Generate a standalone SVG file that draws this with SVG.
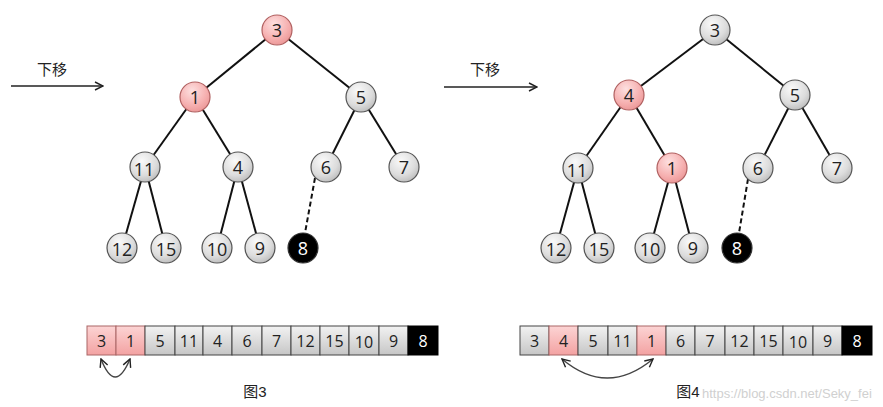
<svg xmlns="http://www.w3.org/2000/svg" width="883" height="407" viewBox="0 0 883 407">
<defs>
<radialGradient id="gg" cx="0.4" cy="0.3" r="0.8">
<stop offset="0" stop-color="#fafafa"/><stop offset="0.6" stop-color="#dcdcdc"/><stop offset="1" stop-color="#b4b4b4"/>
</radialGradient>
<radialGradient id="gp" cx="0.4" cy="0.3" r="0.8">
<stop offset="0" stop-color="#fde0e0"/><stop offset="0.6" stop-color="#f6b0b0"/><stop offset="1" stop-color="#e89090"/>
</radialGradient>
<linearGradient id="cg" x1="0" y1="0" x2="0" y2="1">
<stop offset="0" stop-color="#f2f2f2"/><stop offset="1" stop-color="#c6c6c6"/>
</linearGradient>
<linearGradient id="cp" x1="0" y1="0" x2="0" y2="1">
<stop offset="0" stop-color="#fcd4d4"/><stop offset="1" stop-color="#f3a2a2"/>
</linearGradient>
<marker id="ah" viewBox="0 0 10 10" refX="9" refY="5" markerWidth="10" markerHeight="10" markerUnits="userSpaceOnUse" orient="auto-start-reverse">
<path d="M1,1 L9,5 L1,9" fill="none" stroke="#222" stroke-width="1.4"/>
</marker>
</defs>
<style>
.e{stroke:#111;stroke-width:2;fill:none}
.d{stroke:#111;stroke-width:2;stroke-dasharray:5,3;fill:none}
.n{fill:url(#gg);stroke:#555;stroke-width:1.2}
.p{fill:url(#gp);stroke:#b06060;stroke-width:1.2}
.b{fill:#000;stroke:#333;stroke-width:1.2}
.t{font-family:"Open Sans","Liberation Sans",sans-serif;font-size:18px;fill:#222;text-anchor:middle;dominant-baseline:central}
.c{fill:url(#cg);stroke:#444;stroke-width:1}
.cp{fill:url(#cp);stroke:#a66;stroke-width:1}
.cb{fill:#000;stroke:#000;stroke-width:1}
.ct{font-family:"Open Sans","Liberation Sans",sans-serif;font-size:16px;fill:#222;text-anchor:middle;dominant-baseline:central}
.lab{font-family:"Liberation Sans","Noto Sans CJK SC",sans-serif;font-size:15px;fill:#222;text-anchor:middle}
.ar{stroke:#222;stroke-width:1.6;fill:none}
.cur{stroke:#444;stroke-width:1.4;fill:none}
.w{fill:#fff}
</style>

<g id="connectors">
<line class="e" x1="277" y1="30" x2="195" y2="97"/>
<line class="e" x1="277" y1="30" x2="361" y2="97"/>
<line class="e" x1="195" y1="97" x2="145" y2="167"/>
<line class="e" x1="195" y1="97" x2="238" y2="167"/>
<line class="e" x1="361" y1="97" x2="326" y2="167"/>
<line class="e" x1="361" y1="97" x2="404" y2="167"/>
<line class="e" x1="145" y1="167" x2="122" y2="248"/>
<line class="e" x1="145" y1="167" x2="166" y2="248"/>
<line class="e" x1="238" y1="167" x2="217" y2="248"/>
<line class="e" x1="238" y1="167" x2="260" y2="248"/>
<line class="d" x1="315" y1="178" x2="305" y2="233"/>
<line class="e" x1="715" y1="30" x2="629" y2="95"/>
<line class="e" x1="715" y1="30" x2="795" y2="95"/>
<line class="e" x1="629" y1="95" x2="578" y2="168"/>
<line class="e" x1="629" y1="95" x2="672" y2="168"/>
<line class="e" x1="795" y1="95" x2="758" y2="168"/>
<line class="e" x1="795" y1="95" x2="837" y2="168"/>
<line class="e" x1="578" y1="168" x2="556" y2="248"/>
<line class="e" x1="578" y1="168" x2="599" y2="248"/>
<line class="e" x1="672" y1="168" x2="650" y2="248"/>
<line class="e" x1="672" y1="168" x2="693" y2="248"/>
<line class="d" x1="748" y1="179" x2="739" y2="233"/>
<line class="ar" x1="11" y1="86" x2="103" y2="86" marker-end="url(#ah)"/>
<line class="ar" x1="444" y1="87" x2="537" y2="87" marker-end="url(#ah)"/>
<path class="cur" d="M101,359 Q115,395 130,359" marker-start="url(#ah)" marker-end="url(#ah)"/>
<path class="cur" d="M562,359 Q607,397 653,359" marker-start="url(#ah)" marker-end="url(#ah)"/>
</g>

<text class="lab" x="52" y="75">下移</text>
<text class="lab" x="485" y="75">下移</text>

<g id="L3"><circle class="p" cx="277" cy="30" r="15"/><text class="t" x="277" y="30">3</text></g>
<g id="L1"><circle class="p" cx="195" cy="97" r="15"/><text class="t" x="195" y="97">1</text></g>
<g id="L5"><circle class="n" cx="361" cy="97" r="15"/><text class="t" x="361" y="97">5</text></g>
<g id="L11"><circle class="n" cx="145" cy="167" r="15"/><text class="t" x="144" y="169">11</text></g>
<g id="L4"><circle class="n" cx="238" cy="167" r="15"/><text class="t" x="238" y="167">4</text></g>
<g id="L6"><circle class="n" cx="326" cy="167" r="15"/><text class="t" x="326" y="167">6</text></g>
<g id="L7"><circle class="n" cx="404" cy="167" r="15"/><text class="t" x="404" y="167">7</text></g>
<g id="L12"><circle class="n" cx="122" cy="248" r="15"/><text class="t" x="122" y="249">12</text></g>
<g id="L15"><circle class="n" cx="166" cy="248" r="15"/><text class="t" x="166" y="249">15</text></g>
<g id="L10"><circle class="n" cx="217" cy="248" r="15"/><text class="t" x="217" y="249">10</text></g>
<g id="L9"><circle class="n" cx="260" cy="248" r="15"/><text class="t" x="260" y="248">9</text></g>
<g id="L8"><circle class="b" cx="303" cy="248" r="15"/><text class="t w" x="303" y="248">8</text></g>

<g id="R3"><circle class="n" cx="715" cy="30" r="15"/><text class="t" x="715" y="30">3</text></g>
<g id="R4"><circle class="p" cx="629" cy="95" r="15"/><text class="t" x="629" y="95">4</text></g>
<g id="R5"><circle class="n" cx="795" cy="95" r="15"/><text class="t" x="795" y="95">5</text></g>
<g id="R11"><circle class="n" cx="578" cy="168" r="15"/><text class="t" x="577" y="170">11</text></g>
<g id="R1"><circle class="p" cx="672" cy="168" r="15"/><text class="t" x="672" y="168">1</text></g>
<g id="R6"><circle class="n" cx="758" cy="168" r="15"/><text class="t" x="758" y="168">6</text></g>
<g id="R7"><circle class="n" cx="837" cy="168" r="15"/><text class="t" x="837" y="168">7</text></g>
<g id="R12"><circle class="n" cx="556" cy="248" r="15"/><text class="t" x="556" y="249">12</text></g>
<g id="R15"><circle class="n" cx="599" cy="248" r="15"/><text class="t" x="599" y="249">15</text></g>
<g id="R10"><circle class="n" cx="650" cy="248" r="15"/><text class="t" x="650" y="249">10</text></g>
<g id="R9"><circle class="n" cx="693" cy="248" r="15"/><text class="t" x="693" y="248">9</text></g>
<g id="R8"><circle class="b" cx="737" cy="248" r="15"/><text class="t w" x="737" y="248">8</text></g>

<g id="arrL">
<rect class="cp" x="87" y="326" width="29" height="29"/><text class="ct" x="101.5" y="340.5">3</text>
<rect class="cp" x="116" y="326" width="29" height="29"/><text class="ct" x="130.5" y="340.5">1</text>
<rect class="c" x="145" y="326" width="30" height="29"/><text class="ct" x="160" y="340.5">5</text>
<rect class="c" x="175" y="326" width="28" height="29"/><text class="ct" x="189" y="340.5">11</text>
<rect class="c" x="203" y="326" width="29" height="29"/><text class="ct" x="217.5" y="340.5">4</text>
<rect class="c" x="232" y="326" width="30" height="29"/><text class="ct" x="247" y="340.5">6</text>
<rect class="c" x="262" y="326" width="29" height="29"/><text class="ct" x="276.5" y="340.5">7</text>
<rect class="c" x="291" y="326" width="29" height="29"/><text class="ct" x="305.5" y="340.5">12</text>
<rect class="c" x="320" y="326" width="29" height="29"/><text class="ct" x="334.5" y="340.5">15</text>
<rect class="c" x="349" y="326" width="30" height="29"/><text class="ct" x="364" y="341.5">10</text>
<rect class="c" x="379" y="326" width="29" height="29"/><text class="ct" x="393.5" y="340.5">9</text>
<rect class="cb" x="408" y="326" width="30" height="29"/><text class="ct w" x="423" y="340.5">8</text>
</g>

<g id="arrR">
<rect class="c" x="520" y="326" width="29" height="29"/><text class="ct" x="534.5" y="340.5">3</text>
<rect class="cp" x="549" y="326" width="29" height="29"/><text class="ct" x="563.5" y="340.5">4</text>
<rect class="c" x="578" y="326" width="30" height="29"/><text class="ct" x="593" y="340.5">5</text>
<rect class="c" x="608" y="326" width="29" height="29"/><text class="ct" x="622.5" y="340.5">11</text>
<rect class="cp" x="637" y="326" width="29" height="29"/><text class="ct" x="651.5" y="340.5">1</text>
<rect class="c" x="666" y="326" width="29" height="29"/><text class="ct" x="680.5" y="340.5">6</text>
<rect class="c" x="695" y="326" width="30" height="29"/><text class="ct" x="710" y="340.5">7</text>
<rect class="c" x="725" y="326" width="29" height="29"/><text class="ct" x="739.5" y="340.5">12</text>
<rect class="c" x="754" y="326" width="29" height="29"/><text class="ct" x="768.5" y="340.5">15</text>
<rect class="c" x="783" y="326" width="30" height="29"/><text class="ct" x="798" y="341.5">10</text>
<rect class="c" x="813" y="326" width="29" height="29"/><text class="ct" x="827.5" y="340.5">9</text>
<rect class="cb" x="842" y="326" width="30" height="29"/><text class="ct w" x="857" y="340.5">8</text>
</g>

<text class="lab" x="255" y="397">图3</text>
<text class="lab" x="688" y="397">图4</text>
<text x="702" y="398" font-family="Liberation Sans,sans-serif" font-size="13" fill="#d0d0d0">https://blog.csdn.net/Seky_fei</text>
</svg>
